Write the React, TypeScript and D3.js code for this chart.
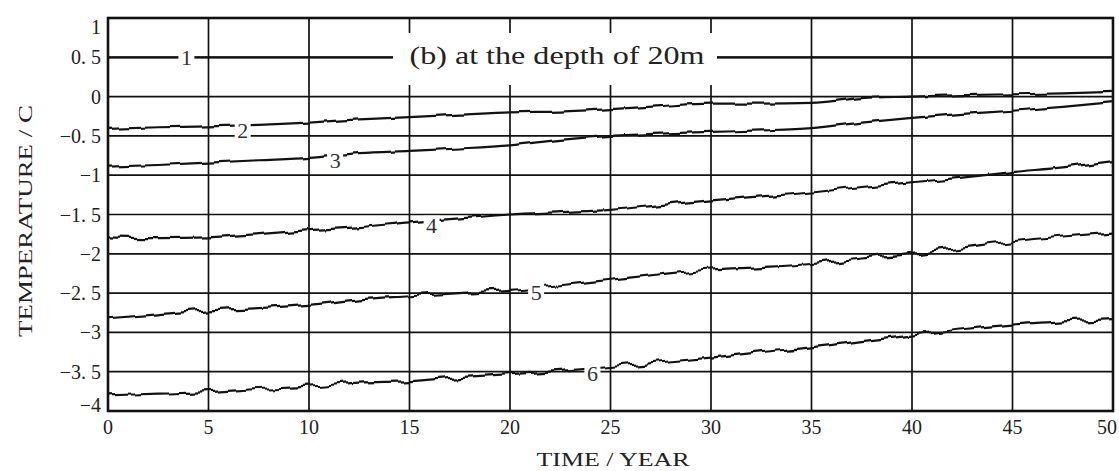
import React from "react";
import * as d3 from "d3";

// time axis (years), sampled every 2.5 years
const years: number[] = [0, 2.5, 5, 7.5, 10, 12.5, 15, 17.5, 20, 22.5, 25, 27.5, 30, 32.5, 35, 37.5, 40, 42.5, 45, 47.5, 50];

// temperature (°C)
const curve1: number[] = [0.5, 0.5, 0.5, 0.5, 0.5, 0.5, 0.5, 0.5, 0.5, 0.5, 0.5, 0.5, 0.5, 0.5, 0.5, 0.5, 0.5, 0.5, 0.5, 0.5, 0.5];
const curve2: number[] = [-0.41, -0.39, -0.38, -0.36, -0.33, -0.29, -0.26, -0.23, -0.2, -0.19, -0.16, -0.12, -0.09, -0.09, -0.08, -0.02, 0.0, 0.02, 0.03, 0.04, 0.06];
const curve3: number[] = [-0.89, -0.87, -0.84, -0.81, -0.78, -0.72, -0.69, -0.66, -0.62, -0.55, -0.5, -0.47, -0.45, -0.43, -0.4, -0.33, -0.27, -0.22, -0.18, -0.13, -0.07];
const curve4: number[] = [-1.79, -1.8, -1.79, -1.75, -1.7, -1.66, -1.6, -1.55, -1.5, -1.47, -1.44, -1.38, -1.32, -1.27, -1.22, -1.15, -1.09, -1.03, -0.96, -0.9, -0.82];
const curve5: number[] = [-2.82, -2.77, -2.72, -2.69, -2.65, -2.58, -2.54, -2.5, -2.46, -2.4, -2.33, -2.26, -2.2, -2.17, -2.13, -2.06, -2.0, -1.92, -1.84, -1.78, -1.73];
const curve6: number[] = [-3.8, -3.78, -3.76, -3.72, -3.69, -3.64, -3.62, -3.57, -3.53, -3.49, -3.44, -3.38, -3.32, -3.25, -3.19, -3.11, -3.04, -2.96, -2.9, -2.86, -2.83];

const curveNames: string[] = ["1", "2", "3", "4", "5", "6"];
const curveLabelYears: number[] = [3.9, 6.7, 11.3, 16.1, 21.3, 24.1];

const yTicks: number[] = [1, 0.5, 0, -0.5, -1, -1.5, -2, -2.5, -3, -3.5, -4];
const yTickLabels: string[] = ["1", "0. 5", "0", "−0. 5", "−1", "−1. 5", "−2", "−2. 5", "−3", "−3. 5", "−4"];
const xTicks: number[] = [0, 5, 10, 15, 20, 25, 30, 35, 40, 45, 50];

const title = "(b) at the depth of 20m";
const xTitle = "TIME / YEAR";
const yTitle = "TEMPERATURE / C";

const FONT = "'Liberation Serif', 'DejaVu Serif', serif";

const App = (): React.JSX.Element => {
  const width = 1119;
  const height = 471;
  const left = 108;
  const right = 1113;
  const top = 18;
  const bottom = 411;

  const x = d3.scaleLinear([0, 50], [left, right]);
  const y = d3.scaleLinear([-4, 1], [bottom, top]);

  const series: number[][] = [curve1, curve2, curve3, curve4, curve5, curve6];
  // hand-drawn wobble of the printed curves (style only)
  const wobble: string[] = ["", "url(#wob-soft)", "url(#wob-soft)", "url(#wob)", "url(#wob-hard)", "url(#wob-hard2)"];

  const line = d3
    .line<number>()
    .x((_d, i) => x(years[i]))
    .y((d) => y(d))
    .curve(d3.curveMonotoneX);

  const valueAt = (s: number[], yr: number): number => d3.scaleLinear(years, s)(yr);

  // title box breaks the grid
  const boxX0 = 393;
  const boxX1 = 717;
  const boxY0 = 33;
  const boxY1 = 85;

  const filters: [string, number, number][] = [
    ["wob-soft", 6, 2],
    ["wob", 10, 5],
    ["wob-hard", 14, 7],
    ["wob-hard2", 14, 11],
  ];

  return (
    <svg
      width={width}
      height={height}
      style={{ position: "absolute", left: 0, top: 0, background: "#fff" }}
      fontFamily={FONT}
    >
      <defs>
        <clipPath id="plot">
          <rect x={left} y={top} width={right - left} height={bottom - top} />
        </clipPath>
        {filters.map(([id, s, seed]) => (
          <filter
            key={id}
            id={id}
            filterUnits="userSpaceOnUse"
            x={0}
            y={0}
            width={width}
            height={height}
            colorInterpolationFilters="sRGB"
          >
            <feTurbulence type="fractalNoise" baseFrequency="0.06 0" numOctaves={1} seed={seed} result="n" />
            <feColorMatrix in="n" type="matrix" values="0 0 0 0 0.5  0 1 0 0 0  0 0 1 0 0  0 0 0 0 1" result="m" />
            <feDisplacementMap in="SourceGraphic" in2="m" scale={s} xChannelSelector="R" yChannelSelector="G" result="d" />
            <feGaussianBlur in="d" stdDeviation={0.45} />
          </filter>
        ))}
      </defs>

      <rect x={0} y={0} width={width} height={height} fill="#fff" />

      {/* grid */}
      <g stroke="#111" strokeWidth={1.7}>
        {yTicks.map((t) => (
          <line key={"h" + t} x1={left} x2={right} y1={y(t)} y2={y(t)} />
        ))}
        {xTicks.map((t) => (
          <line key={"v" + t} x1={x(t)} x2={x(t)} y1={top} y2={bottom} />
        ))}
      </g>

      {/* curves */}
      <g clipPath="url(#plot)" fill="none" stroke="#111" strokeWidth={2.2}>
        {series.map((s, k) => (
          <path key={k} d={line(s) as string} filter={wobble[k] || undefined} />
        ))}
      </g>

      <rect x={left} y={top} width={right - left} height={bottom - top} fill="none" stroke="#111" strokeWidth={2.6} />

      {/* curve numbers */}
      {series.map((s, k) => {
        const cx = x(curveLabelYears[k]);
        const cy = y(valueAt(s, curveLabelYears[k])) + (k === 0 ? 0 : 5);
        return (
          <g key={"l" + k}>
            <rect x={cx - 8} y={cy - 10} width={16} height={20} fill="#fff" />
            <text x={cx} y={cy} textAnchor="middle" dominantBaseline="central" fontSize={22} fill="#333">
              {curveNames[k]}
            </text>
          </g>
        );
      })}

      {/* panel title */}
      <rect x={boxX0} y={boxY0} width={boxX1 - boxX0} height={boxY1 - boxY0} fill="#fff" />
      <text
        x={(boxX0 + boxX1) / 2 + 2}
        y={64}
        textAnchor="middle"
        fontSize={25}
        fill="#222"
        textLength={295}
        lengthAdjust="spacingAndGlyphs"
      >
        {title}
      </text>

      {/* y tick labels */}
      <g fontSize={20} fill="#222" textAnchor="end">
        {yTicks.map((t, i) => (
          <text key={"yl" + t} x={101} y={Math.min(Math.max(y(t), top + 9), bottom - 6)} dominantBaseline="central">
            {yTickLabels[i]}
          </text>
        ))}
      </g>

      {/* x tick labels */}
      <g fontSize={20} fill="#222" textAnchor="middle">
        {xTicks.map((t) => (
          <text key={"xl" + t} x={Math.min(x(t), 1107)} y={427} dominantBaseline="central">
            {t}
          </text>
        ))}
      </g>

      <text x={613} y={466} textAnchor="middle" fontSize={19} fill="#222" textLength={153} lengthAdjust="spacingAndGlyphs">
        {xTitle}
      </text>
      <text
        transform="translate(32,221) rotate(-90)"
        textAnchor="middle"
        fontSize={19}
        fill="#222"
        textLength={232}
        lengthAdjust="spacingAndGlyphs"
      >
        {yTitle}
      </text>
    </svg>
  );
};

export default App;
